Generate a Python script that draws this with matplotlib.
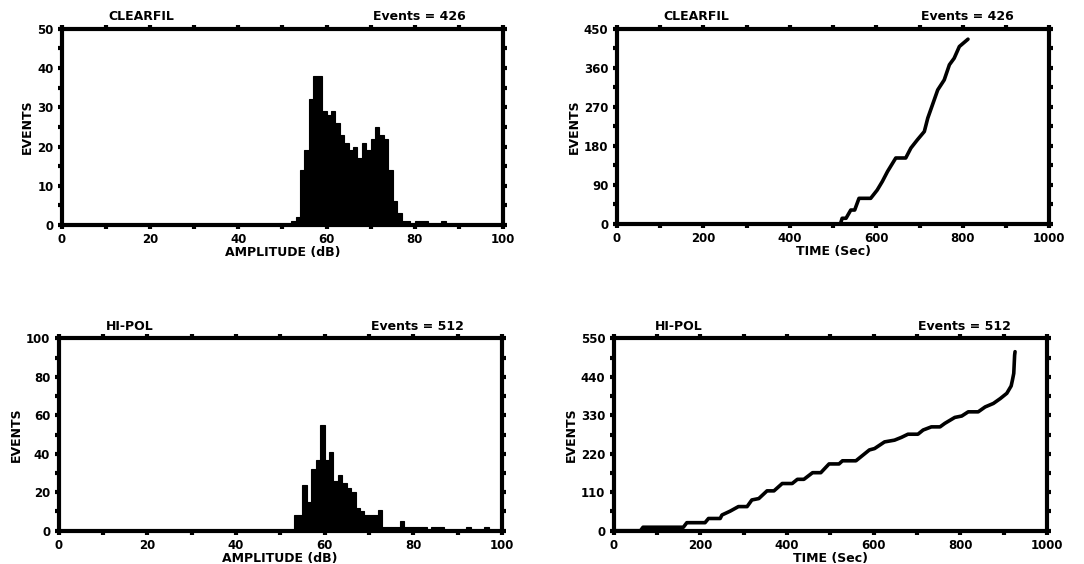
"""Acoustic emission results for two composites: amplitude histograms and cumulative events."""

from matplotlib import pyplot as plt
from matplotlib.ticker import MultipleLocator
import numpy as np

# Amplitude histograms (1 dB bins, left edge -> events)
clearfil_db = [52, 53, 54, 55, 56, 57, 58, 59, 60, 61, 62, 63, 64, 65, 66, 67, 68,
               69, 70, 71, 72, 73, 74, 75, 76, 77, 78, 80, 81, 82, 86]
clearfil_n = [1, 2, 14, 19, 32, 38, 38, 29, 28, 29, 26, 23, 21, 19, 20, 17, 21,
              19, 22, 25, 23, 22, 14, 6, 3, 1, 1, 1, 1, 1, 1]

hipol_db = [53, 54, 55, 56, 57, 58, 59, 60, 61, 62, 63, 64, 65, 66, 67, 68, 69,
            70, 71, 72, 73, 74, 75, 76, 77, 78, 79, 80, 81, 82, 84, 85, 86, 92, 96]
hipol_n = [8, 8, 24, 15, 32, 37, 55, 37, 41, 26, 29, 25, 22, 20, 12, 10, 8,
           8, 8, 11, 2, 2, 2, 2, 5, 2, 2, 2, 2, 2, 2, 2, 2, 2, 2]

# Cumulative events against time (seconds)
clearfil_t = [0, 517, 521, 530, 541, 550, 560, 587, 602, 614, 626, 645, 668, 680,
              695, 711, 719, 730, 742, 757, 769, 780, 792, 812]
clearfil_cum = [0, 0, 13, 13, 32, 32, 59, 59, 78, 98, 121, 152, 152, 175,
                194, 213, 244, 275, 309, 332, 367, 382, 409, 426]

hipol_t = [0, 62, 68, 161, 169, 211, 219, 246, 250, 269, 288, 308, 319, 335, 354,
           370, 389, 412, 424, 439, 459, 478, 497, 520, 528, 559, 571, 590, 602,
           625, 648, 664, 679, 702, 714, 733, 753, 764, 787, 803, 818, 841, 857,
           876, 892, 907, 917, 920, 923, 925, 926]
hipol_cum = [0, 0, 10, 10, 23, 23, 35, 35, 45, 56, 69, 69, 88, 92, 114,
             114, 135, 135, 147, 147, 166, 166, 191, 191, 200, 200, 212, 231, 235,
             254, 259, 267, 276, 276, 288, 297, 297, 307, 324, 328, 340, 340, 354,
             364, 378, 393, 414, 431, 450, 502, 512]

plt.rcParams['font.family'] = 'DejaVu Sans'
plt.rcParams['font.weight'] = 'bold'

fig = plt.figure(figsize=(10.84, 5.64), dpi=100)

ax_tl = fig.add_axes([0.057, 0.601, 0.407, 0.348])
ax_tr = fig.add_axes([0.569, 0.603, 0.399, 0.346])
ax_bl = fig.add_axes([0.054, 0.059, 0.409, 0.341])
ax_br = fig.add_axes([0.566, 0.059, 0.400, 0.341])


def style(ax, xmax, xstep, ymax, ystep, name, count, xlabel, name_x):
    ax.set_xlim(0, xmax)
    ax.set_ylim(0, ymax)
    for sp in ax.spines.values():
        sp.set_linewidth(3)
    ax.xaxis.set_major_locator(MultipleLocator(xstep * 2))
    ax.xaxis.set_minor_locator(MultipleLocator(xstep))
    ax.yaxis.set_major_locator(MultipleLocator(ystep))
    ax.yaxis.set_minor_locator(MultipleLocator(ystep / 2))
    ax.tick_params(which='both', direction='out', length=3, width=3,
                   top=True, right=True, labelsize=8.5, pad=3)
    ax.tick_params(which='major', labeltop=False, labelright=False)
    ax.set_xlabel(xlabel, fontsize=9, fontweight='bold', labelpad=0)
    ax.set_ylabel('EVENTS', fontsize=9, fontweight='bold', labelpad=2)
    ax.text(name_x, 1.03, name, transform=ax.transAxes, ha='center', va='bottom',
            fontsize=9, fontweight='bold')
    ax.text(0.81, 1.03, 'Events = %d' % count, transform=ax.transAxes,
            ha='center', va='bottom', fontsize=9, fontweight='bold')


# Histograms
ax_tl.bar(clearfil_db, clearfil_n, width=1, align='edge', color='black',
          edgecolor='black', linewidth=0.8)
style(ax_tl, 100, 10, 50, 10, 'CLEARFIL', 426, 'AMPLITUDE (dB)', 0.18)

ax_bl.bar(hipol_db, hipol_n, width=1, align='edge', color='black',
          edgecolor='black', linewidth=0.8)
style(ax_bl, 100, 10, 100, 20, 'HI-POL', 512, 'AMPLITUDE (dB)', 0.16)

# Cumulative curves
ax_tr.plot(clearfil_t, clearfil_cum, color='black', linewidth=2.6,
           solid_capstyle='round', solid_joinstyle='round')
style(ax_tr, 1000, 100, 450, 90, 'CLEARFIL', 426, 'TIME (Sec)', 0.185)

ax_br.plot(hipol_t, hipol_cum, color='black', linewidth=2.6,
           solid_capstyle='round', solid_joinstyle='round')
style(ax_br, 1000, 100, 550, 110, 'HI-POL', 512, 'TIME (Sec)', 0.15)

plt.savefig('out.png', dpi=100)
